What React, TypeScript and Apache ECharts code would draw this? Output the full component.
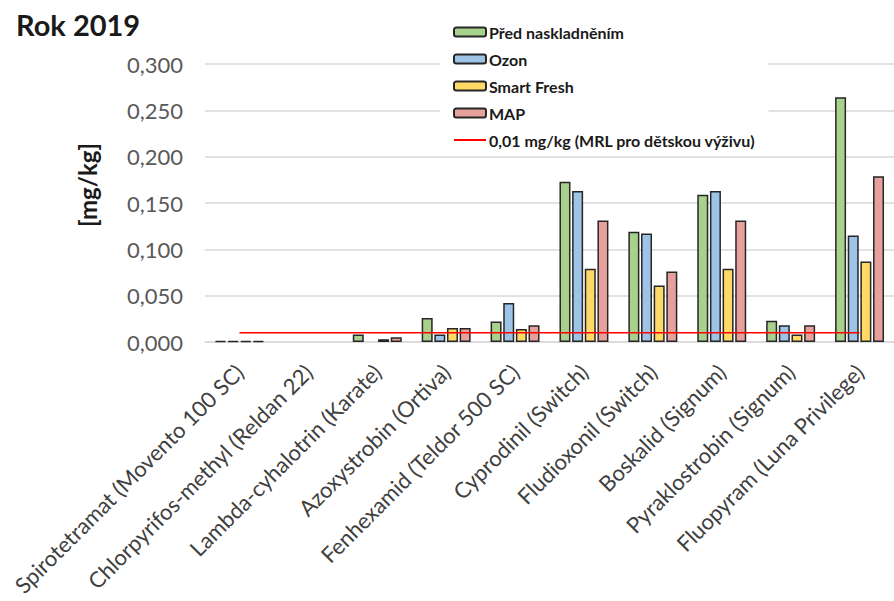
import React, { useEffect, useRef } from "react";
import * as echarts from "echarts";

const categories = [
  "Spirotetramat (Movento 100 SC)",
  "Chlorpyrifos-methyl (Reldan 22)",
  "Lambda-cyhalotrin (Karate)",
  "Azoxystrobin (Ortiva)",
  "Fenhexamid (Teldor 500 SC)",
  "Cyprodinil (Switch)",
  "Fludioxonil (Switch)",
  "Boskalid (Signum)",
  "Pyraklostrobin (Signum)",
  "Fluopyram (Luna Privilege)",
];

const predValues = [0.001, null, 0.008, 0.026, 0.022, 0.173, 0.119, 0.159, 0.023, 0.264];
const ozonValues = [0.001, null, null, 0.008, 0.042, 0.163, 0.117, 0.163, 0.018, 0.115];
const smartValues = [0.001, null, 0.003, 0.015, 0.014, 0.079, 0.061, 0.079, 0.008, 0.087];
const mapValues = [0.001, null, 0.005, 0.015, 0.018, 0.131, 0.076, 0.131, 0.018, 0.179];
const mrlValues = [0.01, 0.01, 0.01, 0.01, 0.01, 0.01, 0.01, 0.01, 0.01, 0.01];

const seriesNames = [
  "Před naskladněním",
  "Ozon",
  "Smart Fresh",
  "MAP",
  "0,01 mg/kg (MRL pro dětskou výživu)",
];
const barColors = ["#a9d18e", "#9dc3e6", "#ffd966", "#e6a19c"];

const FONT = "Lato, 'Open Sans', sans-serif";

export default function App() {
  const ref = useRef<HTMLDivElement>(null);
  useEffect(() => {
    if (!ref.current) return;
    const chart = echarts.init(ref.current, undefined, { renderer: "svg" });
    const barData = [predValues, ozonValues, smartValues, mapValues];
    const barSeries = barData.map((d, i) => ({
      name: seriesNames[i],
      type: "bar",
      data: d.map((v) => (v === null ? "-" : v)),
      barWidth: 11,
      barGap: "15%",
      itemStyle: { color: barColors[i], borderColor: "#262626", borderWidth: 1.5 },
    }));
    chart.setOption({
      animation: false,
      backgroundColor: "#ffffff",
      textStyle: { fontFamily: FONT },
      grid: { left: 205, top: 64, height: 278, width: 698, containLabel: false },
      legend: {
        orient: "vertical",
        left: 440,
        top: 14,
        padding: [10, 13, 4, 13],
        backgroundColor: "#ffffff",
        itemWidth: 32,
        itemHeight: 9,
        itemGap: 11,
        z: 10,
        data: [
          ...seriesNames.slice(0, 4),
          { name: seriesNames[4], itemStyle: { opacity: 0, color: "rgba(0,0,0,0)", borderWidth: 0 } },
        ],
        textStyle: {
          fontFamily: FONT,
          fontWeight: "bold",
          fontSize: 16,
          lineHeight: 14,
          color: "#1a1a1a",
          padding: [0, 0, 0, -2],
        },
      },
      graphic: [
        {
          type: "text",
          left: 16,
          top: 10,
          style: {
            text: "Rok 2019",
            font: `bold 29px ${FONT}`,
            fill: "#1a1a1a",
          },
        },
        {
          type: "text",
          x: 87,
          y: 185,
          rotation: Math.PI / 2,
          style: {
            text: "[mg/kg]",
            font: `bold 24px ${FONT}`,
            fill: "#1a1a1a",
            textAlign: "center",
            textVerticalAlign: "middle",
          },
        },
      ],
      xAxis: {
        type: "category",
        data: categories,
        axisTick: { show: false },
        axisLine: { lineStyle: { color: "#d9d9d9", width: 1.5 } },
        axisLabel: {
          interval: 0,
          rotate: 45,
          margin: 26,
          fontSize: 22,
          fontFamily: FONT,
          color: "#404040",
        },
      },
      yAxis: {
        type: "value",
        min: 0,
        max: 0.3,
        interval: 0.05,
        axisLine: { show: false },
        axisTick: { show: false },
        splitLine: { lineStyle: { color: "#d9d9d9", width: 1.5 } },
        axisLabel: {
          margin: 22,
          fontSize: 22,
          fontFamily: FONT,
          color: "#595959",
          formatter: (v: number) => v.toFixed(3).replace(".", ","),
        },
      },
      series: [
        ...barSeries,
        {
          name: seriesNames[4],
          type: "line",
          data: mrlValues,
          symbol: "none",
          lineStyle: { color: "#ff0000", width: 1.5 },
          itemStyle: { color: "#ff0000" },
          z: 5,
        },
      ],
    });
    return () => chart.dispose();
  }, []);
  return (
    <div
      ref={ref}
      style={{ position: "fixed", left: 0, top: 0, width: 894, height: 601 }}
    />
  );
}
